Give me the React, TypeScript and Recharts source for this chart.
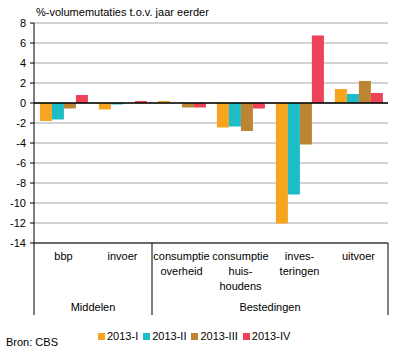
import React from 'react';
import {
  Bar,
  BarChart,
  CartesianGrid,
  Legend,
  ReferenceLine,
  XAxis,
  YAxis,
} from 'recharts';

const categories = [
  'bbp',
  'invoer',
  'consumptie\noverheid',
  'consumptie\nhuis-\nhoudens',
  'inves-\nteringen',
  'uitvoer',
];
const groups = ['Middelen', 'Middelen', 'Bestedingen', 'Bestedingen', 'Bestedingen', 'Bestedingen'];

const q1 = [-1.8, -0.65, 0.2, -2.45, -12.05, 1.4];
const q2 = [-1.65, -0.15, 0, -2.35, -9.15, 0.9];
const q3 = [-0.55, 0, -0.45, -2.8, -4.15, 2.2];
const q4 = [0.8, 0.2, -0.45, -0.55, 6.75, 1.0];

const seriesNames = ['2013-I', '2013-II', '2013-III', '2013-IV'];
const seriesColors = ['#F7A51F', '#1DBDC8', '#BC8532', '#EE4259'];
const yTicks = [-14, -12, -10, -8, -6, -4, -2, 0, 2, 4, 6, 8];

const data = categories.map((name, i) => ({
  name,
  q1: q1[i],
  q2: q2[i],
  q3: q3[i],
  q4: q4[i],
}));

const W = 396;
const H = 356;
const M = { top: 23, right: 8, left: 0, bottom: 0 };
const Y_W = 34;
const BAND = (W - M.left - M.right - Y_W) / categories.length;
const FONT = '"Liberation Sans", Arial, sans-serif';

function CategoryTick(props: any) {
  const { x, y, payload } = props;
  const i = categories.indexOf(payload.value);
  const lines = categories[i].split('\n');
  const first = i === 0 || groups[i] !== groups[i - 1];
  const last = i === categories.length - 1;
  let count = 0;
  if (first) {
    for (let j = i; j < groups.length && groups[j] === groups[i]; j++) count++;
  }
  return (
    <g>
      {lines.map((l, k) => (
        <text key={k} x={x} y={y + 17 + k * 15} textAnchor="middle" fontSize={11} fill="#000" fontFamily={FONT}>
          {l}
        </text>
      ))}
      {first && <line x1={x - BAND / 2} x2={x - BAND / 2} y1={y} y2={y + 72} stroke="#000" />}
      {last && <line x1={x + BAND / 2} x2={x + BAND / 2} y1={y} y2={y + 72} stroke="#000" />}
      {first && (
        <text x={x + ((count - 1) * BAND) / 2} y={y + 68} textAnchor="middle" fontSize={11} fill="#000" fontFamily={FONT}>
          {groups[i]}
        </text>
      )}
    </g>
  );
}

function LegendContent() {
  return (
    <div style={{ display: 'flex', fontFamily: FONT, fontSize: 11, lineHeight: '13px' }}>
      {seriesNames.map((n, i) => (
        <div key={n} style={{ display: 'flex', alignItems: 'center', marginRight: 5 }}>
          <span style={{ width: 7, height: 7, background: seriesColors[i], marginRight: 2, display: 'inline-block' }} />
          <span>{n}</span>
        </div>
      ))}
    </div>
  );
}

export default function App() {
  return (
    <div style={{ position: 'absolute', left: 0, top: 0, width: W, height: H, background: '#fff', fontFamily: FONT }}>
      <div style={{ position: 'absolute', left: 36, top: 6, fontSize: 11, lineHeight: '13px' }}>
        %-volumemutaties t.o.v. jaar eerder
      </div>
      <BarChart width={W} height={H} data={data} margin={M} barGap={0} barCategoryGap="10%">
        <CartesianGrid vertical={false} stroke="#A6A6A6" />
        <XAxis
          dataKey="name"
          height={113}
          tickLine={false}
          tickSize={0}
          tickMargin={0}
          axisLine={{ stroke: '#000' }}
          tick={<CategoryTick />}
          interval={0}
        />
        <YAxis
          width={Y_W}
          domain={[-14, 8]}
          ticks={yTicks}
          interval={0}
          tickSize={4}
          tickMargin={4}
          axisLine={{ stroke: '#000' }}
          tickLine={{ stroke: '#000' }}
          tick={{ fontSize: 11, fill: '#000', fontFamily: FONT }}
        />
        <YAxis
          yAxisId="right"
          orientation="right"
          width={0}
          domain={[-14, 8]}
          tick={false}
          tickLine={false}
          axisLine={{ stroke: '#888' }}
        />
        <ReferenceLine y={0} stroke="#000" strokeWidth={1.5} />
        {['q1', 'q2', 'q3', 'q4'].map((k, i) => (
          <Bar key={k} dataKey={k} name={seriesNames[i]} fill={seriesColors[i]} isAnimationActive={false} />
        ))}
        <Legend
          layout="horizontal"
          verticalAlign="middle"
          align="center"
          content={<LegendContent />}
          wrapperStyle={{ top: 330, left: 98, width: 'auto' }}
        />
      </BarChart>
      <div style={{ position: 'absolute', left: 6, top: 336, fontSize: 11, lineHeight: '13px' }}>Bron: CBS</div>
    </div>
  );
}
